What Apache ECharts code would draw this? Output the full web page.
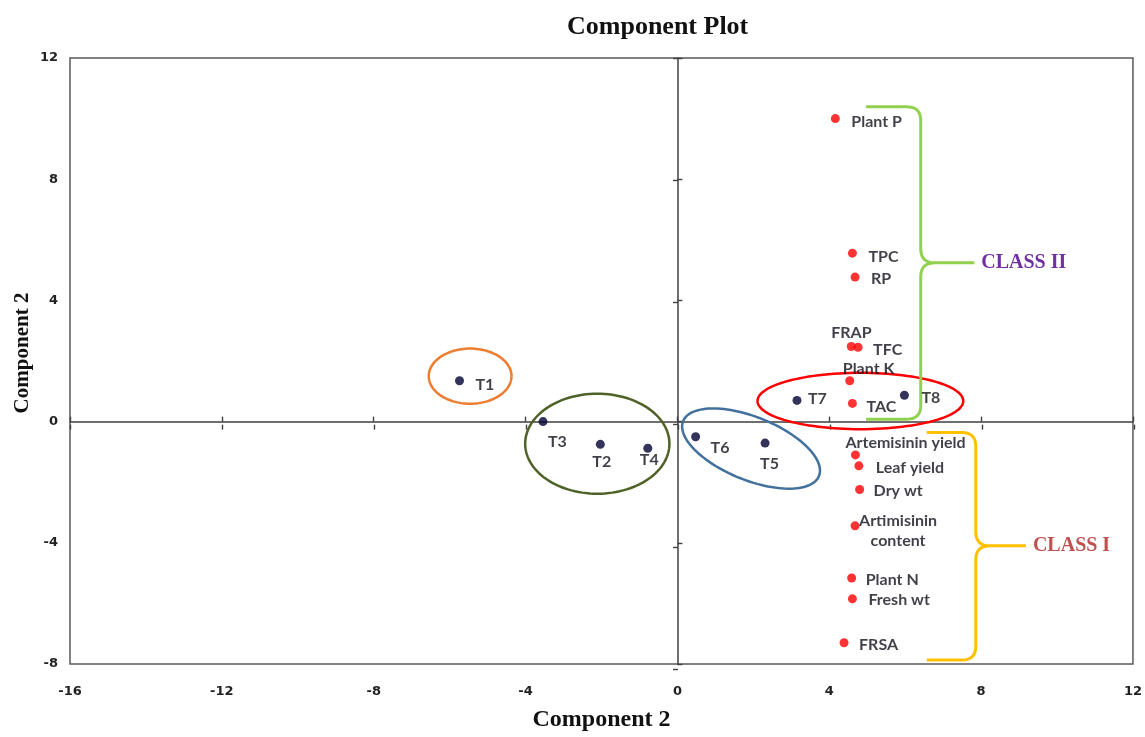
<!DOCTYPE html>
<html>
<head>
<meta charset="utf-8">
<script src="https://cdn.jsdelivr.net/npm/echarts@6/dist/echarts.min.js"></script>
<style>
html,body{margin:0;padding:0;background:#fff;}
#chart{width:1145px;height:737px;}
</style>
</head>
<body>
<div id="chart"></div>
<script>
// ---------- DATA ----------
const treatmentNames = ['T1', 'T3', 'T2', 'T4', 'T6', 'T5', 'T7', 'T8'];
const treatmentX = [-5.74, -3.54, -2.03, -0.78, 0.48, 2.31, 3.15, 5.98];
const treatmentY = [1.35, 0.00, -0.75, -0.88, -0.50, -0.71, 0.70, 0.87];

const variableNames = ['Plant P', 'TPC', 'RP', 'FRAP', 'TFC', 'Plant K', 'TAC',
  'Artemisinin yield', 'Leaf yield', 'Dry wt', 'Artimisinin\ncontent',
  'Plant N', 'Fresh wt', 'FRSA'];
const variableX = [4.16, 4.61, 4.68, 4.58, 4.76, 4.54, 4.61, 4.69, 4.78, 4.80, 4.68, 4.59, 4.61, 4.39];
const variableY = [10.00, 5.56, 4.77, 2.48, 2.45, 1.35, 0.60, -1.10, -1.46, -2.24, -3.44, -5.16, -5.85, -7.30];

const xTickMin = -16, xTickMax = 12, xTickStep = 4;
const yTickMin = -8, yTickMax = 12, yTickStep = 4;

// group ellipses: [centerX, centerY, radiusX, radiusY, tiltDeg]
const groupEllipses = [
  [-5.46, 1.50, 1.09, 0.91, 0],
  [-2.11, -0.73, 1.90, 1.65, 0],
  [1.94, -0.89, 1.93, 1.04, 22],
  [4.82, 0.68, 2.71, 0.93, 0]
];
// class braces: [endX, spineX, tipX, topY, tipY, bottomY]
const classBraces = [
  [4.97, 6.41, 7.82, 10.39, 5.24, 0.08],
  [6.57, 7.86, 9.18, -0.36, -4.10, -7.87]
];
const classLabels = ['CLASS II', 'CLASS I'];

// ---------- STYLE ----------
const ellipseColors = ['#ED7D31', '#4F6228', '#41719C', '#FF0000'];
const braceColors = ['#92D050', '#FFC000'];
const classLabelColors = ['#7030A0', '#C0504D'];
const labelFont = 'Lato';
const labelPlacement = {
  'T1': [16, 4, 'left'], 'T3': [5, 20, 'left'], 'T2': [-8, 18, 'left'], 'T4': [-8, 12, 'left'],
  'T6': [15, 11, 'left'], 'T5': [-5, 21, 'left'], 'T7': [11, -2, 'left'], 'T8': [17, 3, 'left'],
  'Plant P': [16, 3, 'left'], 'TPC': [16, 4, 'left'], 'RP': [16, 2, 'left'], 'FRAP': [-20, -14, 'left'],
  'TFC': [15, 2, 'left'], 'Plant K': [-7, -12, 'left'], 'TAC': [14, 3, 'left'],
  'Artemisinin yield': [-10, -12, 'left'], 'Leaf yield': [17, 2, 'left'], 'Dry wt': [14, 1, 'left'],
  'Artimisinin\ncontent': [43, 5, 'center'], 'Plant N': [14, 2, 'left'], 'Fresh wt': [16, 1, 'left'],
  'FRSA': [15, 2, 'left']
};

function pointItems(names, xs, ys) {
  return names.map((n, i) => {
    const p = labelPlacement[n];
    return { name: n, value: [xs[i], ys[i]], label: { offset: [p[0], p[1]], align: p[2] } };
  });
}

function ellipseItem(params, api) {
  const c = api.coord([api.value(0), api.value(1)]);
  const s = api.size([api.value(2), api.value(3)]);
  const ang = api.value(4) * Math.PI / 180;
  const pts = [];
  for (let i = 0; i <= 120; i++) {
    const t = i / 120 * 2 * Math.PI;
    const ex = s[0] * Math.cos(t), ey = s[1] * Math.sin(t);
    pts.push([c[0] + ex * Math.cos(ang) - ey * Math.sin(ang), c[1] + ex * Math.sin(ang) + ey * Math.cos(ang)]);
  }
  return { type: 'polyline', shape: { points: pts },
    style: { fill: null, stroke: ellipseColors[params.dataIndex], lineWidth: 2.5 } };
}

function braceItem(params, api) {
  const xe = api.coord([api.value(0), 0])[0];
  const xs = api.coord([api.value(1), 0])[0];
  const xt = api.coord([api.value(2), 0])[0];
  const yt = api.coord([0, api.value(3)])[1];
  const yp = api.coord([0, api.value(4)])[1];
  const yb = api.coord([0, api.value(5)])[1];
  const r = 14;
  const pts = [];
  function quad(a, c, b) {
    for (let i = 1; i <= 12; i++) {
      const t = i / 12;
      pts.push([(1 - t) * (1 - t) * a[0] + 2 * (1 - t) * t * c[0] + t * t * b[0],
                (1 - t) * (1 - t) * a[1] + 2 * (1 - t) * t * c[1] + t * t * b[1]]);
    }
  }
  pts.push([xe, yt]); pts.push([xs - r, yt]);
  quad([xs - r, yt], [xs, yt], [xs, yt + r]);
  pts.push([xs, yp - r]);
  quad([xs, yp - r], [xs, yp], [xs + r, yp]);
  pts.push([xt, yp]); pts.push([xs + r, yp]);
  quad([xs + r, yp], [xs, yp], [xs, yp + r]);
  pts.push([xs, yb - r]);
  quad([xs, yb - r], [xs, yb], [xs - r, yb]);
  pts.push([xe, yb]);
  const i = params.dataIndex;
  return { type: 'group', children: [
    { type: 'polyline', shape: { points: pts }, style: { fill: null, stroke: braceColors[i], lineWidth: 3 } },
    { type: 'text', x: xt + 7, y: yp, style: { text: classLabels[i], fill: classLabelColors[i],
      font: 'bold 20px "Liberation Serif"', align: 'left', verticalAlign: 'middle',
      textAlign: 'left', textVerticalAlign: 'middle' } }
  ] };
}

const chart = echarts.init(document.getElementById('chart'), null, { renderer: 'canvas' });
const gridPos = { left: 70, right: 11, top: 58, bottom: 68 };
const axisLabelStyle = { fontFamily: 'DejaVu Sans', fontWeight: 'bold', fontSize: 13, color: '#222' };
const zeroLine = { show: true, onZero: true, lineStyle: { color: '#404040', width: 1.5 } };
const tickStyle = { color: '#404040', width: 1.4 };
const pointLabel = { show: true, position: 'inside', formatter: '{b}', verticalAlign: 'middle', lineHeight: 20,
  fontFamily: labelFont, fontWeight: 'bold', fontSize: 16, color: '#10101c' };
const hiddenAxis = { show: false, axisLine: { show: false, onZero: false }, axisTick: { show: false },
  axisLabel: { show: false }, splitLine: { show: false } };

const option = {
  animation: false,
  backgroundColor: '#fff',
  title: {
    text: 'Component Plot', left: 562, top: 9,
    textStyle: { fontFamily: 'Liberation Serif', fontWeight: 'bold', fontSize: 26, color: '#111' }
  },
  graphic: [{
    type: 'text', x: 23, y: 353, rotation: Math.PI / 2,
    style: { text: 'Component 2', font: 'bold 21px "Liberation Serif"', fill: '#111',
      align: 'center', verticalAlign: 'middle', textAlign: 'center', textVerticalAlign: 'middle' }
  }],
  grid: [
    Object.assign({ show: true, borderColor: '#595959', borderWidth: 1.5, backgroundColor: 'transparent' }, gridPos),
    Object.assign({ show: false }, gridPos)
  ],
  xAxis: [
    { type: 'value', gridIndex: 0, position: 'bottom', min: xTickMin, max: xTickMax, interval: xTickStep,
      axisLine: { show: false, onZero: false }, axisTick: { show: false }, splitLine: { show: false },
      axisLabel: Object.assign({ margin: 21 }, axisLabelStyle),
      name: 'Component 2', nameLocation: 'middle', nameGap: 44,
      nameTextStyle: { fontFamily: 'Liberation Serif', fontWeight: 'bold', fontSize: 24, color: '#111' } },
    { type: 'value', gridIndex: 0, position: 'top', min: xTickMin, max: xTickMax, interval: xTickStep,
      axisLine: zeroLine, axisTick: { show: true, inside: false, length: 5, lineStyle: tickStyle },
      axisLabel: { show: false }, splitLine: { show: false } },
    { type: 'value', gridIndex: 1, position: 'bottom', min: xTickMin, max: xTickMax, interval: xTickStep,
      axisLine: { show: false, onZero: true, onZeroAxisIndex: 3 },
      axisTick: { show: true, inside: false, length: 5, lineStyle: tickStyle },
      axisLabel: { show: false }, splitLine: { show: false } },
    Object.assign({ type: 'value', gridIndex: 1, position: 'top', min: xTickMin, max: xTickMax }, hiddenAxis)
  ],
  yAxis: [
    { type: 'value', gridIndex: 0, position: 'left', min: yTickMin, max: yTickMax, interval: yTickStep,
      axisLine: { show: false, onZero: false }, axisTick: { show: false }, splitLine: { show: false },
      axisLabel: Object.assign({ margin: 12 }, axisLabelStyle) },
    { type: 'value', gridIndex: 0, position: 'right', min: yTickMin, max: yTickMax, interval: yTickStep,
      axisLine: zeroLine, axisTick: { show: true, inside: false, length: 5, lineStyle: tickStyle },
      axisLabel: { show: false }, splitLine: { show: false } },
    { type: 'value', gridIndex: 1, position: 'left', min: yTickMin, max: yTickMax, interval: yTickStep,
      axisLine: { show: false, onZero: true, onZeroAxisIndex: 3 },
      axisTick: { show: true, inside: false, length: 5, lineStyle: tickStyle },
      axisLabel: { show: false }, splitLine: { show: false } },
    Object.assign({ type: 'value', gridIndex: 1, position: 'right', min: yTickMin, max: yTickMax }, hiddenAxis)
  ],
  series: [
    { type: 'custom', xAxisIndex: 0, yAxisIndex: 0, renderItem: ellipseItem, data: groupEllipses,
      silent: true, z: 2, clip: false },
    { type: 'custom', xAxisIndex: 0, yAxisIndex: 0, renderItem: braceItem, data: classBraces,
      silent: true, z: 2, clip: false },
    { type: 'scatter', xAxisIndex: 0, yAxisIndex: 0, symbol: 'circle', symbolSize: 9, z: 5,
      itemStyle: { color: '#000033' }, label: pointLabel,
      data: pointItems(treatmentNames, treatmentX, treatmentY) },
    { type: 'scatter', xAxisIndex: 0, yAxisIndex: 0, symbol: 'circle', symbolSize: 9, z: 5,
      itemStyle: { color: '#FF0000' }, label: pointLabel,
      data: pointItems(variableNames, variableX, variableY) }
  ]
};
chart.setOption(option);
</script>
</body>
</html>
